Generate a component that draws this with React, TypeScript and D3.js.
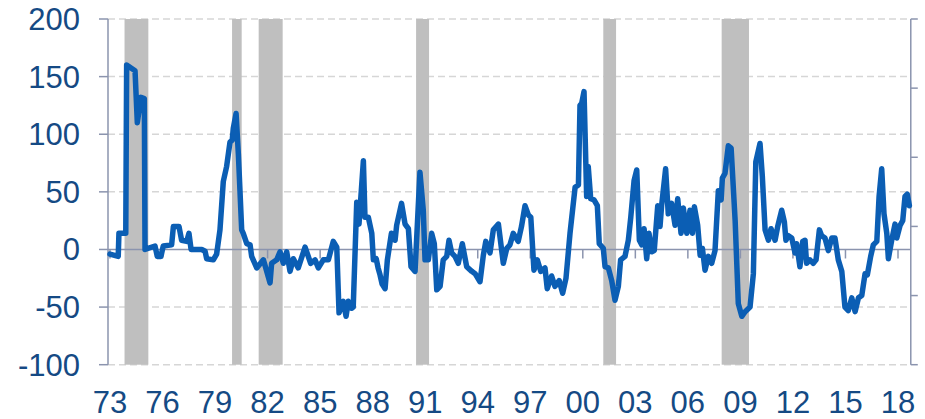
import React from "react";
import * as d3 from "d3";

const yearTicks = ["73","76","79","82","85","88","91","94","97","00","03","06","09","12","15","18"];
const yValueTicks = [-100, -50, 0, 50, 100, 150, 200];

const recessions: [number, number][] = [
  [1973.83, 1975.19],
  [1979.97, 1980.52],
  [1981.49, 1982.86],
  [1990.48, 1991.22],
  [2001.17, 2001.9],
  [2007.93, 2009.49],
];

const dates = [
  1973.0,1973.47,1973.51,1973.9,1973.95,1974.43,1974.56,1974.77,1974.96,1975.0,
  1975.57,1975.7,1975.91,1976.04,1976.52,1976.62,1976.94,1977.09,1977.38,1977.51,
  1977.63,1978.24,1978.43,1978.52,1978.9,1979.09,1979.28,1979.47,1979.66,1979.85,
  1979.98,1980.04,1980.2,1980.33,1980.52,1980.61,1980.81,1981.0,1981.09,1981.38,
  1981.76,1982.14,1982.23,1982.52,1982.71,1982.9,1983.09,1983.28,1983.47,1983.75,
  1984.14,1984.46,1984.71,1984.9,1985.18,1985.47,1985.75,1985.95,1986.08,1986.32,
  1986.48,1986.61,1986.8,1986.89,1987.09,1987.22,1987.47,1987.56,1987.75,1987.95,
  1988.04,1988.2,1988.31,1988.42,1988.54,1988.71,1988.84,1989.07,1989.28,1989.37,
  1989.65,1989.85,1990.04,1990.19,1990.42,1990.7,1990.89,1990.99,1991.18,1991.37,
  1991.52,1991.66,1991.85,1992.03,1992.23,1992.36,1992.51,1992.7,1992.89,1993.12,
  1993.37,1993.66,1993.85,1994.13,1994.32,1994.46,1994.7,1994.89,1995.18,1995.46,
  1995.66,1995.84,1996.03,1996.31,1996.5,1996.7,1996.89,1997.03,1997.21,1997.4,
  1997.6,1997.84,1997.97,1998.22,1998.41,1998.65,1998.85,1999.04,1999.27,1999.56,
  1999.75,1999.84,1999.94,2000.07,2000.22,2000.31,2000.45,2000.64,2000.83,2000.94,
  2001.17,2001.27,2001.46,2001.65,2001.84,2002.03,2002.16,2002.41,2002.6,2002.74,
  2002.93,2003.08,2003.23,2003.37,2003.5,2003.65,2003.78,2003.94,2004.08,2004.28,
  2004.41,2004.5,2004.73,2004.88,2005.07,2005.27,2005.42,2005.61,2005.74,2005.94,
  2006.12,2006.26,2006.37,2006.56,2006.7,2006.83,2006.98,2007.17,2007.36,2007.55,
  2007.74,2007.9,2007.97,2008.12,2008.31,2008.47,2008.7,2008.88,2009.08,2009.27,
  2009.55,2009.74,2009.88,2010.12,2010.25,2010.41,2010.6,2010.75,2010.98,2011.13,
  2011.36,2011.51,2011.6,2011.74,2011.93,2012.12,2012.21,2012.4,2012.56,2012.69,
  2012.78,2012.97,2013.16,2013.32,2013.51,2013.64,2013.83,2014.02,2014.22,2014.4,
  2014.59,2014.79,2014.97,2015.16,2015.36,2015.55,2015.74,2015.93,2016.12,2016.25,
  2016.44,2016.59,2016.79,2016.92,2017.07,2017.2,2017.36,2017.45,2017.64,2017.83,
  2017.93,2018.12,2018.27,2018.4,2018.53,2018.65,
];

const values = [
  -4,-6,14,14,160,155,110,132,131,0,
  3,-6,-6,3,4,20,20,8,7,14,
  0,0,-1.5,-8,-9,-4,17,59,72,93,
  95,105,118,83,17,14,5,4,-6,-16,
  -9,-29,-12,-9,-2,-12,-2,-19,-8,-16,
  2,-12,-9,-16,-9,-9,7,2,-55,-45,
  -58,-45,-51,-50,41,22,77,28,28,14,
  -9,-8,-16,-22,-30,-34,-9,14,8,21,
  40,22,18,-15,-19,67,34,-9,-9,14,
  5,-35,-32,-9,-6,8,-3,-6,-12,5,
  -15,-19,-21,-28,-5,7,-3,17,22,-12,
  1,4,14,7,20,38,30,28,-18,-9,
  -19,-16,-34,-23,-32,-27,-38,-25,14,54,
  56,125,127,137,46,72,44,43,38,5,
  1,-15,-16,-27,-44,-32,-9,-6,8,28,
  60,69,8,4,18,-8,14,-2,-1,38,
  20,38,70,31,40,21,44,14,36,14,
  34,14,37,21,-5,1,-18,-6,-12,-1,
  51,43,62,66,90,88,25,-47,-58,-54,
  -50,-21,76,92,64,17,8,18,8,20,
  34,24,8,12,10,-3,5,-15,7,8,
  -12,-9,-12,-9,17,12,10,-1,10,10,
  -9,-19,-50,-53,-42,-54,-42,-40,-21,-22,
  -6,4,7,46,70,31,14,-8,8,22,
  10,21,25,46,48,38,
];

const W = 925;
const H = 419;
const LABEL_COLOR = "#154a84";
const AXIS_COLOR = "#8b94ae";
const GRID_COLOR = "#d6d6d6";
const LINE_COLOR = "#0b5eb4";
const BAR_COLOR = "#bfbfbf";
const FONT = "'Liberation Sans', Arial, sans-serif";

export default function App() {
  const x = d3.scaleLinear().domain([1973, 2018]).range([110, 898]);
  const y = d3.scaleLinear().domain([-100, 200]).range([364.7, 19]);
  const yRight = d3.scaleLinear().domain([-2, 3]).range([364.7, 19]);
  const left = x(1972.886);
  const right = x(2018.73);

  const pts = dates.map((d, i) => [d, values[i]] as [number, number]);
  const line = d3
    .line<[number, number]>()
    .x((d) => x(d[0]))
    .y((d) => y(d[1]));

  const tickYear = (s: string) => {
    const n = +s;
    return n >= 70 ? 1900 + n : 2000 + n;
  };

  return (
    <svg
      width={W}
      height={H}
      style={{ position: "absolute", left: 0, top: 0, background: "#fff" }}
      fontFamily={FONT}
    >
      {yValueTicks
        .filter((v) => v !== 0)
        .map((v) => (
          <line
            key={"g" + v}
            x1={left}
            x2={right}
            y1={y(v)}
            y2={y(v)}
            stroke={GRID_COLOR}
            strokeWidth={1.5}
            strokeDasharray="7,4"
          />
        ))}
      {recessions.map(([a, b], i) => (
        <rect
          key={"r" + i}
          x={x(a)}
          y={y(200)}
          width={x(b) - x(a)}
          height={y(-100) - y(200)}
          fill={BAR_COLOR}
        />
      ))}
      <line x1={left} x2={right} y1={y(0)} y2={y(0)} stroke={AXIS_COLOR} strokeWidth={1.5} />
      {yearTicks.map((t) => (
        <line
          key={"xt" + t}
          x1={x(tickYear(t))}
          x2={x(tickYear(t))}
          y1={y(0)}
          y2={y(0) + 9}
          stroke={AXIS_COLOR}
          strokeWidth={1.5}
        />
      ))}
      <line x1={left} x2={left} y1={y(200)} y2={y(-100)} stroke={AXIS_COLOR} strokeWidth={1.5} />
      {yValueTicks.map((v) => (
        <line
          key={"lt" + v}
          x1={left - 9}
          x2={left}
          y1={y(v)}
          y2={y(v)}
          stroke={AXIS_COLOR}
          strokeWidth={1.5}
        />
      ))}
      <line x1={right} x2={right} y1={y(200)} y2={y(-100)} stroke={AXIS_COLOR} strokeWidth={1.5} />
      {yRight.ticks(5).map((v) => (
        <line
          key={"rt" + v}
          x1={right}
          x2={right + 7}
          y1={yRight(v)}
          y2={yRight(v)}
          stroke={AXIS_COLOR}
          strokeWidth={1.5}
        />
      ))}
      <path
        d={line(pts) || ""}
        fill="none"
        stroke={LINE_COLOR}
        strokeWidth={5.5}
        strokeLinejoin="round"
        strokeLinecap="round"
      />
      {yValueTicks.map((v) => (
        <text
          key={"yl" + v}
          x={80}
          y={y(v) + 11}
          textAnchor="end"
          fontSize={31}
          fill={LABEL_COLOR}
        >
          {v}
        </text>
      ))}
      {yearTicks.map((t) => (
        <text
          key={"xl" + t}
          x={x(tickYear(t))}
          y={413}
          textAnchor="middle"
          fontSize={31}
          fill={LABEL_COLOR}
        >
          {t}
        </text>
      ))}
    </svg>
  );
}
